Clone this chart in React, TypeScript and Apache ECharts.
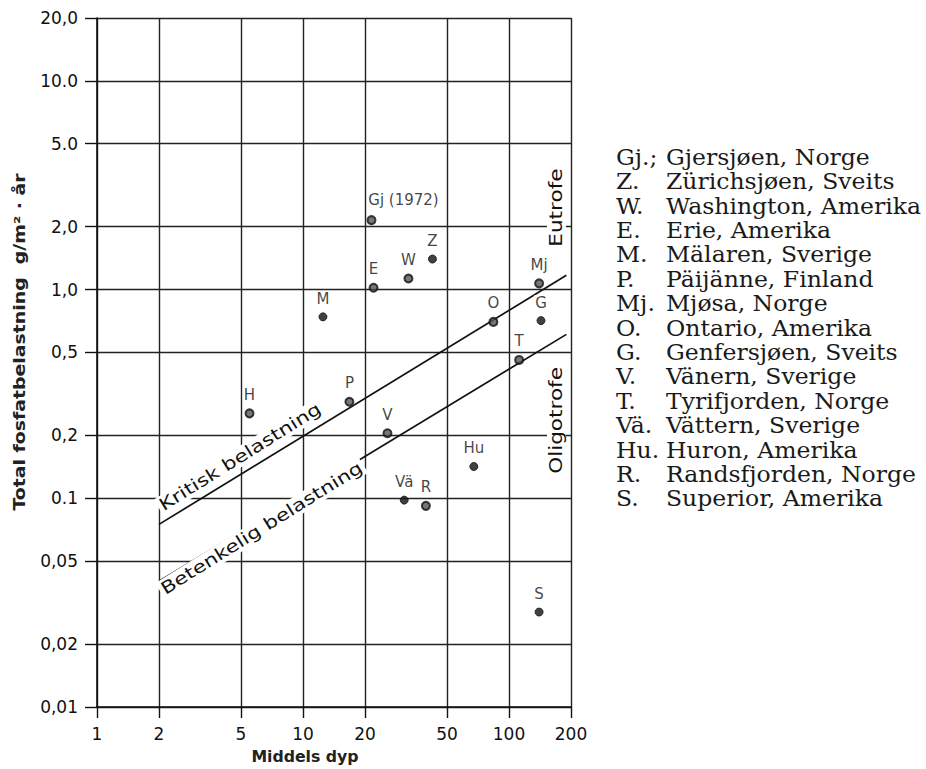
import React, { useEffect, useRef } from "react";
import * as echarts from "echarts";

// Axis ticks
const xTicks = [1, 2, 5, 10, 20, 50, 100, 200];
const xTickLabels = ["1", "2", "5", "10", "20", "50", "100", "200"];
const yTicks = [0.01, 0.02, 0.05, 0.1, 0.2, 0.5, 1, 2, 5, 10, 20];
const yTickLabels = ["0,01", "0,02", "0,05", "0.1", "0,2", "0,5", "1,0", "2,0", "5.0", "10.0", "20,0"];

// Lakes: code, mean depth (m), total phosphorus loading (g/m2·yr)
const lakeCodes = ["Gj (1972)", "E", "W", "Z", "M", "Mj", "O", "G", "T", "H", "P", "V", "Hu", "Vä", "R", "S"];
const lakeDepth = [21.5, 22, 32.5, 42.5, 12.5, 140, 84, 143, 112, 5.5, 16.8, 25.7, 67.5, 31, 39.5, 140];
const lakeLoad = [2.15, 1.02, 1.13, 1.4, 0.74, 1.07, 0.7, 0.71, 0.46, 0.255, 0.29, 0.205, 0.142, 0.098, 0.092, 0.0285];
const lakeMarker = ["ring", "ring", "ring", "solid", "solid", "ring", "ring", "solid", "ring", "ring", "ring", "ring", "solid", "solid", "ring", "solid"];

// Loading lines
const kritiskDepth = [2, 190];
const kritiskLoad = [0.075, 1.17];
const betenkeligDepth = [2, 190];
const betenkeligLoad = [0.04, 0.61];

// Annotations inside the plot
const noteTexts = ["Kritisk belastning", "Betenkelig belastning", "Eutrofe", "Oligotrofe"];
const noteDepth = [4.95, 6.3, 170, 170];
const noteLoad = [0.158, 0.072, 2.47, 0.236];
const noteRotate = [32, 32, 90, 90];

// Key on the right
const legendCodes = ["Gj.;", "Z.", "W.", "E.", "M.", "P.", "Mj.", "O.", "G.", "V.", "T.", "Vä.", "Hu.", "R.", "S."];
const legendNames = [
  "Gjersjøen, Norge",
  "Zürichsjøen, Sveits",
  "Washington, Amerika",
  "Erie, Amerika",
  "Mälaren, Sverige",
  "Päijänne, Finland",
  "Mjøsa, Norge",
  "Ontario, Amerika",
  "Genfersjøen, Sveits",
  "Vänern, Sverige",
  "Tyrifjorden, Norge",
  "Vättern, Sverige",
  "Huron, Amerika",
  "Randsfjorden, Norge",
  "Superior, Amerika",
];

const SANS = "'DejaVu Sans', sans-serif";
const SERIF = "'DejaVu Serif', serif";
const INK = "#111";

function lookup(ticks: number[], labels: string[], v: number) {
  const i = ticks.findIndex((t) => Math.abs(t - v) / t < 1e-6);
  return i >= 0 ? labels[i] : "";
}

export default function App() {
  const ref = useRef<HTMLDivElement>(null);

  useEffect(() => {
    document.body.style.margin = "0";
    if (!ref.current) return;
    const chart = echarts.init(ref.current, undefined, { renderer: "svg" });

    const pointLabel = {
      show: true,
      position: "top" as const,
      distance: 6,
      fontFamily: SANS,
      fontSize: 15,
      color: INK,
      backgroundColor: "#fff",
      padding: [0, 1],
      formatter: (p: any) => p.data.name,
    };

    const makePoints = (kind: string) =>
      lakeCodes
        .map((c, i) => ({ c, i }))
        .filter(({ i }) => lakeMarker[i] === kind)
        .map(({ c, i }) => {
          const item: any = { name: c, value: [lakeDepth[i], lakeLoad[i]] };
          if (c.startsWith("Gj")) item.label = { offset: [32, -2], backgroundColor: "transparent" };
          return item;
        });

    const legendGraphics: any[] = [];
    legendCodes.forEach((code, i) => {
      const y = 157 + i * 24.4;
      legendGraphics.push({
        type: "text",
        x: 616,
        y,
        scaleX: 1.07,
        style: { text: code, font: `22px ${SERIF}`, fill: "#1a1a1a", verticalAlign: "middle" },
      });
      legendGraphics.push({
        type: "text",
        x: 666,
        y,
        scaleX: 1.07,
        style: { text: legendNames[i], font: `22px ${SERIF}`, fill: "#1a1a1a", verticalAlign: "middle" },
      });
    });

    chart.setOption({
      animation: false,
      backgroundColor: "#fff",
      grid: { left: 97, top: 18, width: 474, height: 689, containLabel: false },
      xAxis: {
        type: "log",
        logBase: 10,
        min: 1,
        max: 200,
        axisLine: { show: true, lineStyle: { color: INK, width: 1.6 } },
        axisTick: { show: true, customValues: xTicks, length: 11, inside: false, lineStyle: { color: INK, width: 1.4 } },
        axisLabel: {
          customValues: xTicks,
          margin: 18,
          fontFamily: SANS,
          fontSize: 17,
          color: INK,
          formatter: (v: number) => lookup(xTicks, xTickLabels, v),
        },
        splitLine: { show: true, lineStyle: { color: "#222", width: 1.4 } },
        minorTick: { show: false },
      },
      yAxis: {
        type: "log",
        logBase: 10,
        min: 0.01,
        max: 20,
        axisLine: { show: true, lineStyle: { color: INK, width: 1.6 } },
        axisTick: { show: true, customValues: yTicks, length: 12, inside: false, lineStyle: { color: INK, width: 1.4 } },
        axisLabel: {
          customValues: yTicks,
          margin: 19,
          fontFamily: SANS,
          fontSize: 17,
          color: INK,
          formatter: (v: number) => lookup(yTicks, yTickLabels, v),
        },
        splitLine: { show: true, lineStyle: { color: "#222", width: 1.4 } },
      },
      graphic: [
        {
          type: "text",
          x: 20,
          y: 342,
          rotation: Math.PI / 2,
          scaleX: 1.26,
          style: {
            text: "Total fosfatbelastning  g/m² · år",
            font: `bold 15px ${SANS}`,
            fill: "#222",
            align: "center",
            verticalAlign: "middle",
          },
        },
        {
          type: "text",
          x: 305,
          y: 757,
          scaleX: 1.05,
          style: {
            text: "Middels dyp",
            font: `bold 15px ${SANS}`,
            fill: "#222",
            align: "center",
            verticalAlign: "middle",
          },
        },
        ...legendGraphics,
      ],
      series: [
        {
          name: "Kritisk belastning",
          type: "line",
          data: kritiskDepth.map((d, i) => [d, kritiskLoad[i]]),
          symbol: "none",
          lineStyle: { color: INK, width: 1.7 },
          z: 3,
        },
        {
          name: "Betenkelig belastning",
          type: "line",
          data: betenkeligDepth.map((d, i) => [d, betenkeligLoad[i]]),
          symbol: "none",
          lineStyle: { color: INK, width: 1.7 },
          z: 3,
        },
        {
          name: "notes",
          type: "custom",
          data: noteTexts.map((_, i) => [noteDepth[i], noteLoad[i], i]),
          encode: { x: 0, y: 1 },
          renderItem: (_params: any, api: any) => {
            const i = api.value(2);
            const pt = api.coord([api.value(0), api.value(1)]);
            return {
              type: "text",
              x: pt[0],
              y: pt[1],
              rotation: (noteRotate[i] * Math.PI) / 180,
              scaleX: 1.27,
              style: {
                text: noteTexts[i],
                font: `17px ${SANS}`,
                fill: INK,
                align: "center",
                verticalAlign: "middle",
                backgroundColor: "#fff",
                padding: [1, 2],
              },
            };
          },
          z: 4,
        },
        {
          name: "ring",
          type: "scatter",
          symbol: "circle",
          symbolSize: 8,
          itemStyle: { color: "#555", borderColor: "#111", borderWidth: 2 },
          data: makePoints("ring"),
          label: { ...pointLabel },
          z: 5,
        },
        {
          name: "solid",
          type: "scatter",
          symbol: "circle",
          symbolSize: 8,
          itemStyle: { color: "#111", borderColor: "#111", borderWidth: 1 },
          data: makePoints("solid"),
          label: { ...pointLabel },
          z: 5,
        },
      ],
    });

    return () => chart.dispose();
  }, []);

  return <div ref={ref} style={{ width: 926, height: 769 }} />;
}
